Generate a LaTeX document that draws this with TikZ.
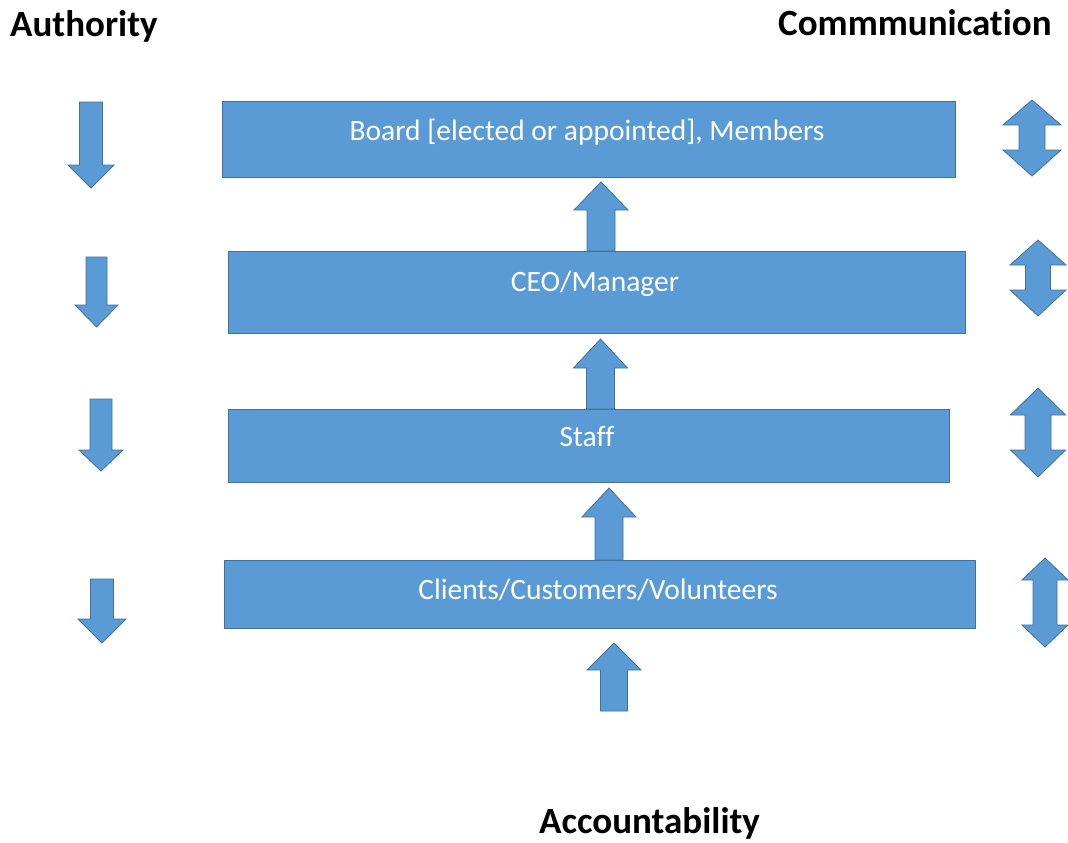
\documentclass[tikz,border=0pt]{standalone}
\usepackage{fontspec}
\setmainfont{Carlito}[Ligatures=NoCommon]
\definecolor{boxfill}{HTML}{5B9BD5}
\definecolor{boxline}{HTML}{41719C}
\newcommand\myUp[6]{\draw[arr] ({#1-#6},#4) -- ({#1-#6},#3) -- ({#1-#5},#3) -- (#1,#2) -- ({#1+#5},#3) -- ({#1+#6},#3) -- ({#1+#6},#4) -- cycle;}
\newcommand\myDown[6]{\draw[arr] ({#1-#6},#2) -- ({#1-#6},#3) -- ({#1-#5},#3) -- (#1,#4) -- ({#1+#5},#3) -- ({#1+#6},#3) -- ({#1+#6},#2) -- cycle;}
\newcommand\myBoth[7]{\draw[arr] (#1,#2) -- ({#1+#6},#3) -- ({#1+#7},#3) -- ({#1+#7},#4) -- ({#1+#6},#4) -- (#1,#5) -- ({#1-#6},#4) -- ({#1-#7},#4) -- ({#1-#7},#3) -- ({#1-#6},#3) -- cycle;}
\begin{document}
\begin{tikzpicture}[x=1pt,y=-1pt,
  bar/.style={draw=boxline,fill=boxfill,line width=1pt,inner sep=0pt},
  arr/.style={draw=boxline,fill=boxfill,line width=0.8pt,line join=miter},
  boxtext/.style={anchor=base,text=white,font=\fontsize{29.5}{35}\selectfont,inner sep=0pt},
  heading/.style={anchor=base west,font=\fontsize{37}{44}\selectfont\bfseries,inner sep=0pt}]
\useasboundingbox[fill=white] (0,0) rectangle (1068,843);
% headings
\node[heading] (auth) at (10,37) {Authority};
\node[heading] (comm) at (778,36) {Commmunication};
\node[heading] (acc) at (539,833) {Accountability};
% boxes
\node[bar,minimum width=733pt,minimum height=76pt] (board) at (588.5,139) {};
\node[bar,minimum width=737pt,minimum height=82pt] (ceo) at (596.5,292) {};
\node[bar,minimum width=721pt,minimum height=73pt] (staff) at (588.5,445.5) {};
\node[bar,minimum width=751pt,minimum height=68pt] (clients) at (599.5,594) {};
\node[boxtext] (tboard) at (587,140) {Board [elected or appointed], Members};
\node[boxtext] (tceo) at (595,291) {CEO/Manager};
\node[boxtext] (tstaff) at (587,446) {Staff};
\node[boxtext] (tclients) at (598,599) {Clients/Customers/Volunteers};
% up arrows (accountability)
\myUp{601}{182}{210}{251}{27}{14}
\myUp{600.5}{339}{368}{409}{27}{14}
\myUp{609}{488}{517}{560}{27}{14}
\myUp{614}{643}{670}{711}{27}{13.5}
% down arrows (authority)
\myDown{91}{102}{165}{188}{23}{11.5}
\myDown{96.5}{257}{305}{327}{21.5}{10.5}
\myDown{101}{399}{450}{471}{22}{11}
\myDown{102}{579}{619}{643}{24}{11.5}
% double arrows (communication)
\myBoth{1032}{100}{125}{150}{176}{29}{13}
\myBoth{1038}{240}{265}{290}{316}{28}{12.5}
\myBoth{1038}{388}{415}{450}{477}{27.5}{13}
\myBoth{1045}{558}{580}{625}{647}{23}{12}
\end{tikzpicture}
\end{document}
